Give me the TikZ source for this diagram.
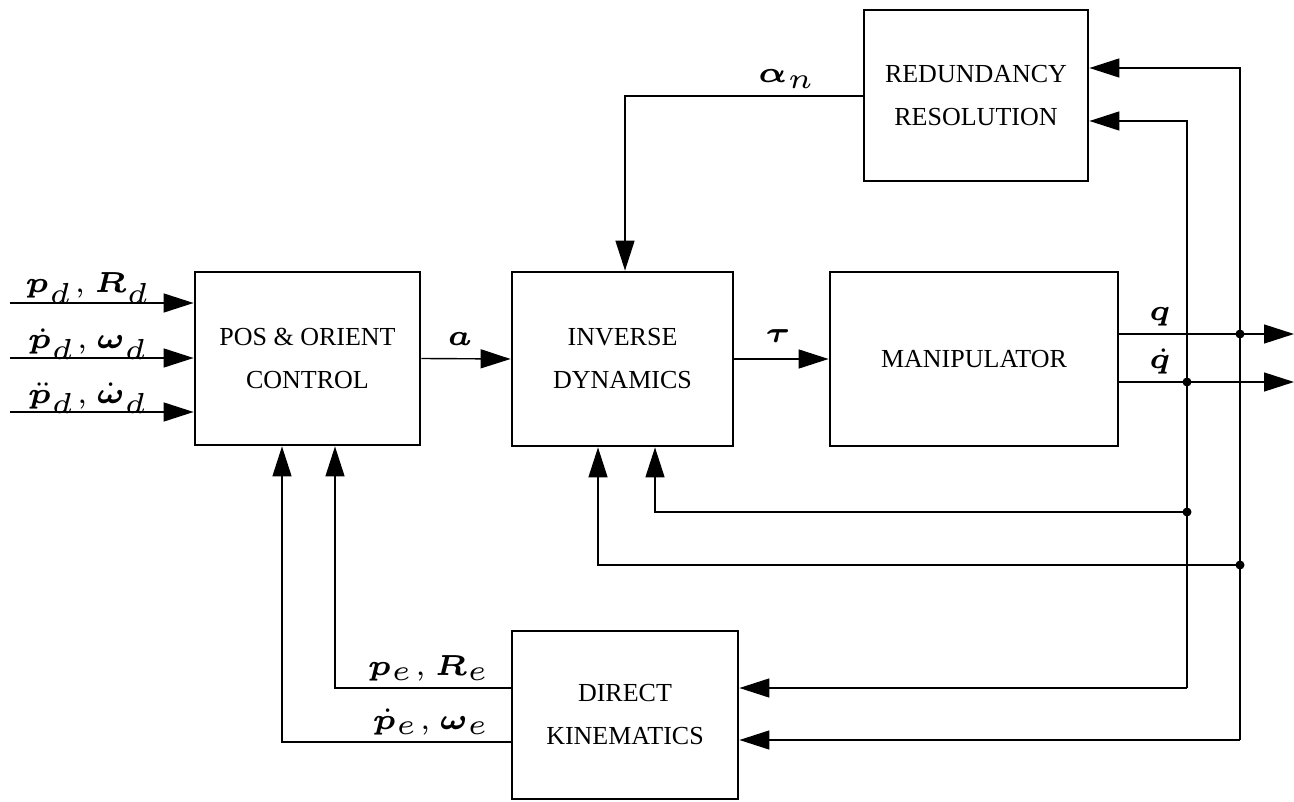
\documentclass[tikz,border=0pt]{standalone}
\usepackage{amsmath,bm}
\usepackage{graphicx}
\usepackage{fontspec}
\setmainfont{Liberation Serif}
\usetikzlibrary{arrows.meta}
\newcommand\mlab[1]{\scalebox{5.8}{\fontsize{5}{6}\selectfont$#1$}}
\tikzset{
  blk/.style={draw,line width=2.8pt,inner sep=0pt,align=center,font=\fontsize{26}{43}\selectfont},
  wire/.style={line width=1.4pt},
  conn/.style={wire,-{Triangle[length=30pt,width=19pt]}},
  lbl/.style={inner sep=0pt},
  dot/.style={fill=black}
}
\begin{document}
\begin{tikzpicture}[x=1pt,y=-1pt]
\useasboundingbox (0,0) rectangle (1294,802);
% blocks
\node[blk,minimum width=225pt,minimum height=173pt] (pos) at (307.5,358.5) {POS \& ORIENT\\CONTROL};
\node[blk,minimum width=221pt,minimum height=174pt] (inv) at (622.5,359) {INVERSE\\DYNAMICS};
\node[blk,minimum width=288pt,minimum height=174pt] (man) at (974,359) {MANIPULATOR};
\node[blk,minimum width=224pt,minimum height=171pt] (red) at (976,95.5) {REDUNDANCY\\RESOLUTION};
\node[blk,minimum width=226pt,minimum height=168pt] (dk) at (625,715) {DIRECT\\KINEMATICS};
% free ends and junctions
\coordinate (in1) at (10,303);
\coordinate (in2) at (10,358);
\coordinate (in3) at (10,412);
\coordinate (qout) at (1294,334);
\coordinate (qdout) at (1294,382);
\coordinate (jq) at (1240,334);
\coordinate (jqd) at (1187,382);
\coordinate (jq2) at (1240,565);
\coordinate (jqd2) at (1187,512);
\coordinate (qA) at (1240,68);
\coordinate (qD) at (1240,740);
\coordinate (dA) at (1187,121);
\coordinate (dD) at (1187,688);
\coordinate (iA) at (655,512);
\coordinate (iB) at (598,565);
\coordinate (pA) at (335,688);
\coordinate (pB) at (282,742);
\coordinate (aN) at (625,96);
% inputs
\draw[conn] (in1) -- (in1 -| pos.west);
\draw[conn] (in2) -- (in2 -| pos.west);
\draw[conn] (in3) -- (in3 -| pos.west);
\node[lbl,anchor=base] (l1) at (88,293) {\mlab{\bm{p}_d,\bm{R}_d}};
\node[lbl,anchor=base] (l2) at (88,349) {\mlab{\dot{\bm{p}}_d,\bm{\omega}_d}};
\node[lbl,anchor=base] (l3) at (88,403) {\mlab{\ddot{\bm{p}}_d,\dot{\bm{\omega}}_d}};
% forward chain
\draw[conn] (pos.east) -- (inv.west);
\node[lbl,anchor=base] (la) at (460,346) {\mlab{\bm{a}}};
\draw[conn] (inv.east) -- (man.west);
\node[lbl,anchor=base] (lt) at (778,343) {\mlab{\bm{\tau}}};
% outputs
\draw[conn] (jq -| man.east) -- (qout);
\draw[conn] (jqd -| man.east) -- (qdout);
\node[lbl,anchor=base] (lq) at (1160,321) {\mlab{\bm{q}}};
\node[lbl,anchor=base] (lqd) at (1160,369) {\mlab{\dot{\bm{q}}}};
% feedback q
\draw[conn] (jq) -- (qA) -- (qA -| red.east);
\draw[wire] (jq) -- (qD);
\draw[conn] (qD) -- (qD -| dk.east);
\draw[conn] (jq2) -- (iB) -- (iB |- inv.south);
% feedback qdot
\draw[conn] (jqd) -- (dA) -- (dA -| red.east);
\draw[wire] (jqd) -- (dD);
\draw[conn] (dD) -- (dD -| dk.east);
\draw[conn] (jqd2) -- (iA) -- (iA |- inv.south);
% alpha
\draw[conn] (aN -| red.west) -- (aN) -- (aN |- inv.north);
\node[lbl,anchor=base] (lal) at (787,83) {\mlab{\bm{\alpha}_n}};
% direct kinematics outputs
\draw[conn] (pA -| dk.west) -- (pA) -- (pA |- pos.south);
\draw[conn] (pB -| dk.west) -- (pB) -- (pB |- pos.south);
\node[lbl,anchor=base east] (lpe) at (490,675) {\mlab{\bm{p}_e,\bm{R}_e}};
\node[lbl,anchor=base east] (lpde) at (490,729) {\mlab{\dot{\bm{p}}_e,\bm{\omega}_e}};
% junction dots
\fill[dot] (jq) circle (4.5);
\fill[dot] (jqd) circle (4.5);
\fill[dot] (jq2) circle (4.5);
\fill[dot] (jqd2) circle (4.5);
\end{tikzpicture}
\end{document}
